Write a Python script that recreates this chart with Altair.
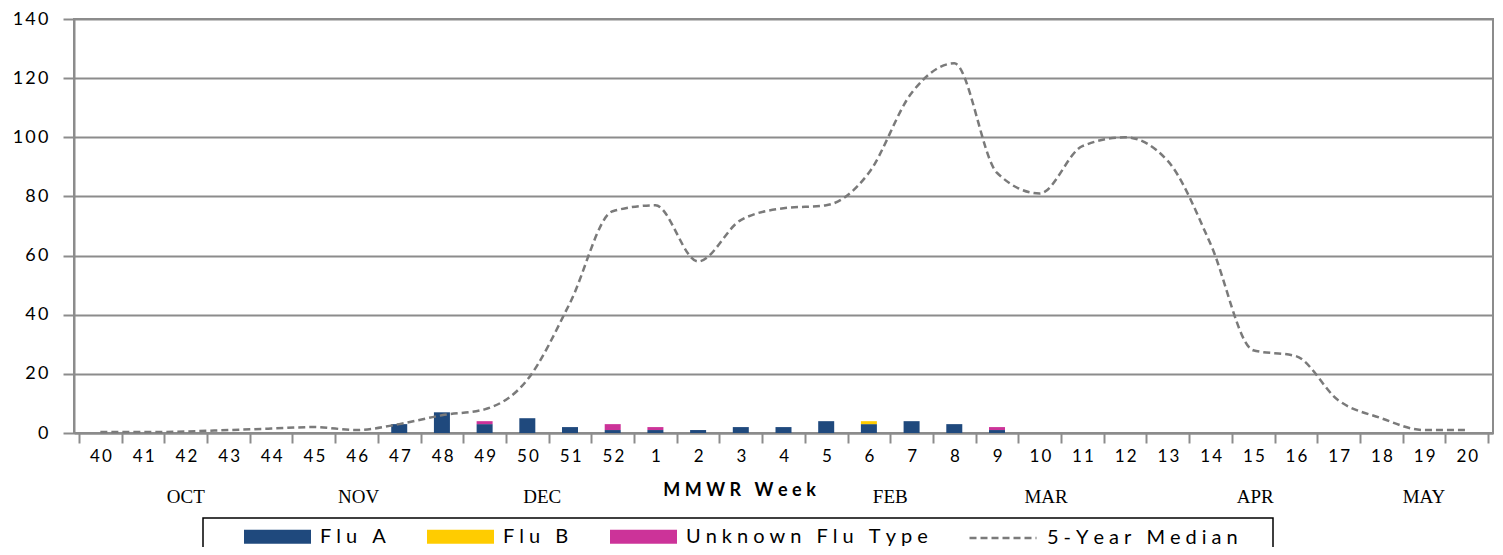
import altair as alt
import pandas as pd

weeks = ["40", "41", "42", "43", "44", "45", "46", "47", "48", "49", "50", "51", "52",
         "1", "2", "3", "4", "5", "6", "7", "8", "9", "10", "11", "12", "13", "14",
         "15", "16", "17", "18", "19", "20"]
flu_a = [0, 0, 0, 0, 0, 0, 0, 3, 7, 3, 5, 2, 1,
         1, 1, 2, 2, 4, 3, 4, 3, 1, 0, 0, 0, 0, 0,
         0, 0, 0, 0, 0, 0]
flu_b = [0, 0, 0, 0, 0, 0, 0, 0, 0, 0, 0, 0, 0,
         0, 0, 0, 0, 0, 1, 0, 0, 0, 0, 0, 0, 0, 0,
         0, 0, 0, 0, 0, 0]
unknown = [0, 0, 0, 0, 0, 0, 0, 0, 0, 1, 0, 0, 2,
           1, 0, 0, 0, 0, 0, 0, 0, 1, 0, 0, 0, 0, 0,
           0, 0, 0, 0, 0, 0]
median = [0.3, 0.3, 0.5, 1, 1.5, 2, 1, 3, 6, 8, 18, 44, 75,
          77, 58, 72, 76, 77, 88, 115, 125, 88, 81, 97, 100, 92, 64,
          28, 26, 11, 5, 1, 1]
months = ["OCT", "NOV", "DEC", "FEB", "MAR", "APR", "MAY"]
month_pos = [2, 6.05, 10.35, 18.5, 22.15, 27.05, 31]

series_names = ["Flu A", "Flu B", "Unknown Flu Type"]
series_colors = ["#1F497D", "#FFCC00", "#CC3399"]
median_name = "5-Year Median"

TS = "\u2009"
WS = "\u2005"
spaced_weeks = [TS.join(list(w)) for w in weeks]

rows = []
for i, w in enumerate(weeks):
    for k, (name, vals) in enumerate(zip(series_names, [flu_a, flu_b, unknown])):
        if vals[i] > 0:
            rows.append(dict(idx=i, week=w, series=name, value=vals[i], order=k))
bars_df = pd.DataFrame(rows)
line_df = pd.DataFrame({"idx": list(range(len(weeks))), "median": median,
                        "series": [median_name] * len(weeks)})
month_df = pd.DataFrame({"pos": month_pos, "month": months})

GRID = "#8c8c8c"
FONT = "Lato"

xscale = alt.Scale(domain=[-0.5, len(weeks) - 0.5], nice=False, zero=False)
yscale = alt.Scale(domain=[0, 140], nice=False)

label_arr = "[" + ",".join("'" + w + "'" for w in spaced_weeks) + "]"
x_axis = alt.Axis(
    values=[i - 0.5 for i in range(len(weeks) + 1)],
    labelExpr=label_arr + "[round(datum.value + 0.5)] || ''",
    labelOffset=21.5, labelFlush=False, labelOverlap=False, labelBound=False,
    labelFont=FONT, labelFontSize=17, labelColor="#000", labelPadding=5,
    tickSize=10, tickColor=GRID, tickWidth=2, domainColor=GRID, domainWidth=2,
    grid=False,
    title=WS.join(list("MMWR Week")), titleFont=FONT, titleFontSize=18,
    titleFontWeight="bold", titleColor="#000", titleX=665, titleY=57,
    titleAlign="center", titleBaseline="middle",
)
y_axis = alt.Axis(
    values=[0, 20, 40, 60, 80, 100, 120, 140],
    labelExpr="join(split(datum.label, ''), '" + TS + "')",
    labelFont=FONT, labelFontSize=18, labelColor="#000", labelPadding=15,
    tickSize=11, tickColor=GRID, tickWidth=2, domainColor=GRID, domainWidth=2,
    grid=True, gridColor=GRID, gridWidth=2, title=None,
)

legend_label = "join(split(datum.label, ''), '" + WS + "')"

bars = alt.Chart(bars_df).mark_bar(size=16).encode(
    x=alt.X("idx:Q", scale=xscale, axis=x_axis),
    y=alt.Y("value:Q", stack="zero", scale=yscale, axis=y_axis),
    color=alt.Color("series:N",
                    scale=alt.Scale(domain=series_names, range=series_colors),
                    legend=alt.Legend(
                        title=None, orient="none", direction="horizontal",
                        legendX=170, legendY=484,
                        symbolType="M-1,-0.21H1V0.21H-1Z", symbolSize=4489,
                        symbolStrokeWidth=0, symbolOpacity=1,
                        labelFont=FONT, labelFontSize=20, labelColor="#000",
                        labelOffset=9, labelLimit=400, columnPadding=41,
                        labelExpr=legend_label,
                    )),
    order=alt.Order("order:Q"),
)

line = alt.Chart(line_df).mark_line(interpolate="monotone", color="#7a7a7a",
                                    strokeWidth=2.5).encode(
    x=alt.X("idx:Q", scale=xscale),
    y=alt.Y("median:Q", scale=yscale),
    strokeDash=alt.StrokeDash("series:N",
                              scale=alt.Scale(domain=[median_name], range=[[7, 4]]),
                              legend=alt.Legend(
                                  title=None, orient="none", direction="horizontal",
                                  legendX=894, legendY=484,
                                  symbolType="stroke", symbolSize=4489,
                                  symbolStrokeColor="#7a7a7a", symbolStrokeWidth=2.5,
                                  labelFont=FONT, labelFontSize=20, labelColor="#000",
                                  labelOffset=9, labelLimit=400,
                                  labelExpr=legend_label,
                              )),
)

month_text = alt.Chart(month_df).mark_text(font="Liberation Serif", fontSize=19,
                                           baseline="middle", color="#000").encode(
    x=alt.X("pos:Q", scale=xscale),
    y=alt.value(478),
    text="month:N",
)

box = alt.Chart(pd.DataFrame({"k": [0]})).mark_rect(
    fillOpacity=0, stroke="#000", strokeWidth=1.5).encode(
    x=alt.value(129), x2=alt.value(1199), y=alt.value(499), y2=alt.value(560),
)

chart = alt.layer(bars, line, month_text, box).properties(
    width=1419, height=414,
    padding={"left": 66, "top": 11, "right": 2, "bottom": 114},
    autosize="none",
).configure_view(stroke=GRID, strokeWidth=2)

chart.save("out.html", embed_options={"renderer": "svg", "actions": False})
